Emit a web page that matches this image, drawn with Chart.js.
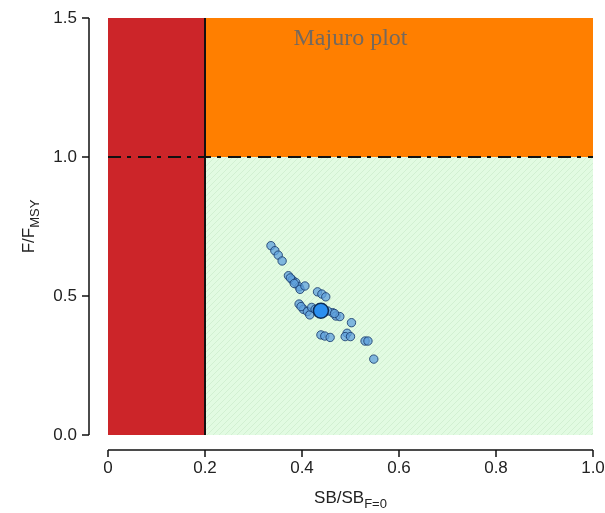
<!DOCTYPE html>
<html>
<head>
<meta charset="utf-8">
<script src="https://cdn.jsdelivr.net/npm/chart.js@4"></script>
<style>
  html, body { margin: 0; padding: 0; background: #fff; }
  #wrap { width: 605px; height: 513px; }
</style>
</head>
<body>
<div id="wrap"><canvas id="majuro" width="605" height="513"></canvas></div>
<script>
// axis ticks
const xTicks = [0, 0.2, 0.4, 0.6, 0.8, 1.0];
const xTickLabels = ['0', '0.2', '0.4', '0.6', '0.8', '1.0'];
const yTicks = [0, 0.5, 1.0, 1.5];
const yTickLabels = ['0.0', '0.5', '1.0', '1.5'];

// stock status estimates (SB/SB_F=0, F/F_MSY)
const sbRatio = [0.336, 0.344, 0.351, 0.359, 0.372, 0.380, 0.387, 0.394, 0.396, 0.406,
  0.376, 0.384, 0.432, 0.441, 0.449, 0.394, 0.403, 0.411, 0.416, 0.420, 0.398, 0.427,
  0.463, 0.470, 0.478, 0.502, 0.493, 0.489, 0.500, 0.439, 0.447, 0.458, 0.530, 0.536,
  0.548, 0.453, 0.467];
const fRatio = [0.681, 0.663, 0.647, 0.626, 0.573, 0.558, 0.549, 0.533, 0.524, 0.536,
  0.565, 0.545, 0.515, 0.507, 0.497, 0.471, 0.452, 0.444, 0.432, 0.459, 0.462, 0.452,
  0.440, 0.428, 0.426, 0.404, 0.366, 0.354, 0.354, 0.360, 0.356, 0.351, 0.338, 0.338,
  0.273, 0.446, 0.437];
// median
const medianSB = [0.439];
const medianF = [0.447];

// reference points
const limitSB = 0.2;
const refF = 1.0;
const xMax = 1.0;
const yMax = 1.5;

// light green hatch for the "good" zone
function hatch() {
  const c = document.createElement('canvas');
  c.width = 6; c.height = 6;
  const g = c.getContext('2d');
  g.fillStyle = '#e2fbe2';
  g.fillRect(0, 0, 6, 6);
  g.strokeStyle = '#d2f0d2';
  g.lineWidth = 1;
  g.beginPath();
  g.moveTo(0, 6); g.lineTo(6, 0);
  g.moveTo(-3, 3); g.lineTo(3, -3);
  g.moveTo(3, 9); g.lineTo(9, 3);
  g.stroke();
  return g.createPattern(c, 'repeat');
}

const ctx = document.getElementById('majuro').getContext('2d');

const rAxes = {
  id: 'rAxes',
  afterDraw(chart) {
    const { ctx, chartArea, scales } = chart;
    const x = scales.x, y = scales.y;
    ctx.save();
    ctx.strokeStyle = '#111';
    ctx.lineWidth = 1.5;
    // y axis, set apart from the plot
    const ax = chartArea.left - 19;
    ctx.beginPath();
    ctx.moveTo(ax, y.getPixelForValue(yTicks[0]));
    ctx.lineTo(ax, y.getPixelForValue(yTicks[yTicks.length - 1]));
    yTicks.forEach(v => {
      const py = y.getPixelForValue(v);
      ctx.moveTo(ax, py); ctx.lineTo(ax - 7, py);
    });
    ctx.stroke();
    // x axis
    const ay = chartArea.bottom + 15;
    ctx.beginPath();
    ctx.moveTo(x.getPixelForValue(xTicks[0]), ay);
    ctx.lineTo(x.getPixelForValue(xTicks[xTicks.length - 1]), ay);
    xTicks.forEach(v => {
      const px = x.getPixelForValue(v);
      ctx.moveTo(px, ay); ctx.lineTo(px, ay + 7);
    });
    ctx.stroke();

    // axis titles with subscripts
    ctx.fillStyle = '#222';
    ctx.textBaseline = 'alphabetic';
    const big = '17px "Liberation Sans", Arial, sans-serif';
    const small = '13px "Liberation Sans", Arial, sans-serif';

    // x title
    ctx.font = big;
    const w1 = ctx.measureText('SB/SB').width;
    ctx.font = small;
    const w2 = ctx.measureText('F=0').width;
    let sx = (chartArea.left + chartArea.right) / 2 - (w1 + w2) / 2;
    const by = 503;
    ctx.font = big;
    ctx.fillText('SB/SB', sx, by);
    ctx.font = small;
    ctx.fillText('F=0', sx + w1, by + 5);

    // y title
    ctx.translate(34, (chartArea.top + chartArea.bottom) / 2);
    ctx.rotate(-Math.PI / 2);
    ctx.font = big;
    const v1 = ctx.measureText('F/F').width;
    ctx.font = small;
    const v2 = ctx.measureText('MSY').width;
    const sy = -(v1 + v2) / 2;
    ctx.font = big;
    ctx.fillText('F/F', sy, 0);
    ctx.font = small;
    ctx.fillText('MSY', sy + v1, 5);
    ctx.restore();

    // plot label
    ctx.save();
    ctx.font = '24px "Liberation Serif", "DejaVu Serif", serif';
    ctx.fillStyle = '#74695e';
    ctx.textAlign = 'center';
    ctx.textBaseline = 'middle';
    ctx.fillText('Majuro plot', (chartArea.left + chartArea.right) / 2, chartArea.top + 21);
    ctx.restore();
  }
};

new Chart(ctx, {
  type: 'scatter',
  data: {
    datasets: [
      {
        label: 'median',
        data: medianSB.map((v, i) => ({ x: v, y: medianF[i] })),
        pointRadius: 7.5,
        backgroundColor: '#2a8ff0',
        borderColor: '#0d2d55',
        borderWidth: 1.5,
        order: 0
      },
      {
        label: 'estimates',
        data: sbRatio.map((v, i) => ({ x: v, y: fRatio[i] })),
        pointRadius: 4.2,
        backgroundColor: 'rgba(95,160,220,0.75)',
        borderColor: 'rgba(25,60,110,0.85)',
        borderWidth: 1,
        order: 1
      },
      {
        label: 'Fmsy',
        data: [{ x: 0, y: refF }, { x: xMax, y: refF }],
        showLine: true,
        pointRadius: 0,
        borderColor: '#111',
        borderWidth: 2,
        borderDash: [13, 6, 4, 7],
        order: 2
      },
      {
        label: 'LRP',
        data: [{ x: limitSB, y: 0 }, { x: limitSB, y: yMax }],
        showLine: true,
        pointRadius: 0,
        borderColor: '#111',
        borderWidth: 2,
        order: 3
      },
      {
        label: 'green',
        data: [{ x: limitSB, y: refF }, { x: xMax, y: refF }],
        showLine: true,
        pointRadius: 0,
        borderWidth: 0,
        borderColor: 'rgba(0,0,0,0)',
        backgroundColor: hatch(),
        fill: 'origin',
        order: 4
      },
      {
        label: 'orange',
        data: [{ x: limitSB, y: yMax }, { x: xMax, y: yMax }],
        showLine: true,
        pointRadius: 0,
        borderWidth: 0,
        borderColor: 'rgba(0,0,0,0)',
        backgroundColor: '#ff7f00',
        fill: { value: refF },
        order: 5
      },
      {
        label: 'red',
        data: [{ x: 0, y: yMax }, { x: limitSB, y: yMax }],
        showLine: true,
        pointRadius: 0,
        borderWidth: 0,
        borderColor: 'rgba(0,0,0,0)',
        backgroundColor: '#cc2529',
        fill: 'origin',
        order: 6
      }
    ]
  },
  options: {
    responsive: false,
    animation: false,
    layout: { padding: { left: 0, top: 18, right: 12, bottom: 0 } },
    plugins: {
      legend: { display: false },
      tooltip: { enabled: false },
      title: { display: false }
    },
    scales: {
      x: {
        type: 'linear',
        min: 0,
        max: xMax,
        grid: { display: false, drawTicks: false },
        border: { display: false },
        afterBuildTicks: s => { s.ticks = xTicks.map(v => ({ value: v })); },
        afterFit: s => { s.height = 78; s.paddingLeft = 0; s.paddingRight = 0; },
        ticks: {
          padding: 23,
          maxRotation: 0,
          color: '#222',
          font: { family: '"Liberation Sans", Arial, sans-serif', size: 17 },
          callback: (v, i) => xTickLabels[i]
        }
      },
      y: {
        type: 'linear',
        min: 0,
        max: yMax,
        grid: { display: false, drawTicks: false },
        border: { display: false },
        afterBuildTicks: s => { s.ticks = yTicks.map(v => ({ value: v })); },
        afterFit: s => { s.width = 108; s.paddingTop = 0; s.paddingBottom = 0; },
        ticks: {
          padding: 31,
          color: '#222',
          font: { family: '"Liberation Sans", Arial, sans-serif', size: 17 },
          callback: (v, i) => yTickLabels[i]
        }
      }
    }
  },
  plugins: [rAxes]
});
</script>
</body>
</html>
